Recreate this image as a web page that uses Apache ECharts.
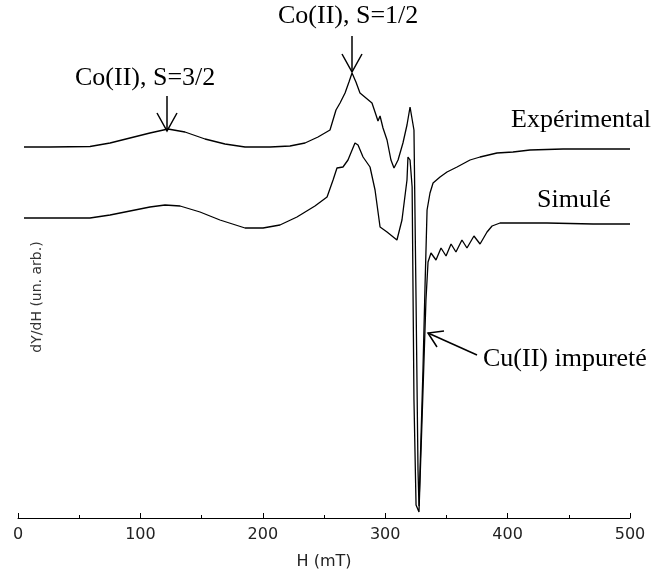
<!DOCTYPE html>
<html><head><meta charset="utf-8">
<script src="https://cdn.jsdelivr.net/npm/echarts@6/dist/echarts.min.js"></script>
<style>html,body{margin:0;padding:0;background:#fff}#c{width:657px;height:579px}</style>
</head><body><div id="c"></div>
<script>
// Field H (mT) and dY/dH (arbitrary units) for the experimental spectrum
const expH = [4.9,26.1,58.8,75.2,91.5,107.8,122.5,136.4,152.8,169.1,185.5,205.9,222.2,234.5,245.1,254.9,259.8,263.1,267.2,270.4,272.9,276.1,279.4,284.3,289.2,292.5,294.1,295.8,298.2,301.5,304.7,307.2,310.5,314.5,317.8,320.3,321.9,323.5,325.2,326.8,327.6,330.9,332.5,334.2,336.6,339.1,344.8,350.5,358.7,369.3,377.5,391.3,404.4,418.3,445.3,500];
const expY = [74.2,74.2,74.3,75,76,77,77.8,77.2,75.8,74.8,74.2,74.2,74.4,75,76.2,77.6,81.6,83,85,87.2,89,87.2,85,84,83,80.6,79.4,80.4,78,75.6,71.6,70,71.6,75,78.6,82.2,82.4,77.6,43.6,9.6,2.4,30,46,61.6,65,67,68.2,69.2,70.2,71.6,72.2,73,73.2,73.6,73.8,73.8];
// Simulated spectrum
const simH = [4.9,58.8,75.2,91.5,107.8,120.1,132.4,148.7,165,185.5,200.2,214,227.9,242.6,252.5,257.4,260.6,265.5,269.6,275.3,277.8,281.9,287.6,291.7,295.8,301.5,309.6,313.7,317.8,318.6,320.3,322,323.5,325.2,327.6,330.1,333.3,335,337.4,341.5,345.6,349.7,353.8,357.8,362.7,366.8,372.5,377.5,383.2,387.3,393.8,432.2,469.8,500];
const simY = [60,60,60.6,61.4,62.2,62.6,62.4,61.2,59.6,58,58,58.6,60.2,62.4,64.2,67.6,70,70.2,71.6,75,74.6,72.2,70.2,65.6,58.2,57.2,55.6,59.6,67.6,72.2,71.6,66.2,23.6,2.6,1.2,19.6,43.6,51.2,53,51.6,54,52.4,54.8,53.2,55.6,54,56.4,54.8,57.2,58.4,59,59,58.8,58.8];
const xTicks = [0,100,200,300,400,500];

const zip = (a,b) => a.map((v,i) => [v,b[i]]);
const chart = echarts.init(document.getElementById('c'), null, {renderer:'canvas'});
const serif = '"Liberation Serif", "Times New Roman", serif';
const arrowStyle = {stroke:'#000', lineWidth:1.5, fill:null};
chart.setOption({
  animation:false,
  backgroundColor:'#fff',
  grid:{left:18,right:27,top:18,bottom:61},
  xAxis:{type:'value',min:xTicks[0],max:xTicks[xTicks.length-1],interval:100,
    axisLine:{lineStyle:{color:'#000',width:1}},
    axisTick:{inside:true,length:5,lineStyle:{color:'#000'}},
    minorTick:{show:true,splitNumber:2,length:3,lineStyle:{color:'#000'}},
    splitLine:{show:false},
    axisLabel:{color:'#222',fontFamily:'"DejaVu Sans"',fontSize:16,margin:9},
    name:'H (mT)',nameLocation:'middle',nameGap:36,
    nameTextStyle:{color:'#222',fontFamily:'"DejaVu Sans"',fontSize:16}},
  yAxis:{type:'value',min:0,max:100,show:false},
  series:[
    {name:'Expérimental',type:'line',data:zip(expH,expY),showSymbol:false,
     lineStyle:{color:'#000',width:1.3}},
    {name:'Simulé',type:'line',data:zip(simH,simY),showSymbol:false,
     lineStyle:{color:'#000',width:1.3}}
  ],
  graphic:[
    {type:'text',left:75,top:65,style:{text:'Co(II), S=3/2',font:'26px '+serif,fill:'#000'}},
    {type:'line',shape:{x1:167,y1:96,x2:167,y2:131},style:arrowStyle},
    {type:'polyline',shape:{points:[[157,113],[167,131],[177,113]]},style:arrowStyle},
    {type:'text',left:278,top:3,style:{text:'Co(II), S=1/2',font:'26px '+serif,fill:'#000'}},
    {type:'line',shape:{x1:352,y1:36,x2:352,y2:72},style:arrowStyle},
    {type:'polyline',shape:{points:[[342,54],[352,72],[362,54]]},style:arrowStyle},
    {type:'text',left:511,top:107,style:{text:'Expérimental',font:'26px '+serif,fill:'#000'}},
    {type:'text',left:537,top:187,style:{text:'Simulé',font:'26px '+serif,fill:'#000'}},
    {type:'text',left:483,top:346,style:{text:'Cu(II) impureté',font:'26px '+serif,fill:'#000'}},
    {type:'line',shape:{x1:477,y1:355,x2:428,y2:333},style:arrowStyle},
    {type:'polyline',shape:{points:[[437,347],[428,333],[444,331]]},style:arrowStyle},
    {type:'text',x:37,y:297,rotation:Math.PI/2,
     style:{text:'dY/dH (un. arb.)',font:'14px "DejaVu Sans"',fill:'#333',align:'center',verticalAlign:'middle'}}
  ]
});
</script></body></html>
